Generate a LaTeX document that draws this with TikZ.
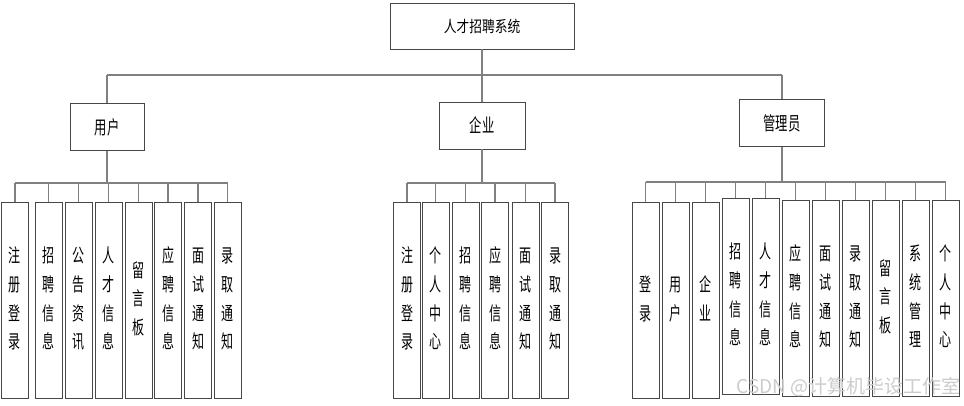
\documentclass[tikz,border=0pt]{standalone}
\usepackage{fontspec}
\newfontfamily\cjk{Noto Sans CJK SC}
\newcommand\vtxt[1]{\scalebox{0.8}[1.25]{\begin{tabular}{@{}c@{}}#1\end{tabular}}}
\newcommand\htxt[1]{\scalebox{0.82}[1.25]{#1}}
\begin{document}
\begin{tikzpicture}[x=1pt,y=-1pt,
  box/.style={draw=black!72,line width=0.95pt,fill=white,inner sep=0pt,rectangle,font=\cjk\fontsize{15}{23}\selectfont},
  rootbox/.style={box,minimum width=184pt,minimum height=46pt},
  midbox/.style={box,minimum height=47pt},
  leaf/.style={box,minimum width=27pt,minimum height=196pt},
  conn/.style={draw=black!50,line width=1.3pt}]
\useasboundingbox[fill=white] (0,0) rectangle (964,405);

% root
\node[rootbox] (root) at (482,26) {\scalebox{0.85}[1.05]{人才招聘系统}};

% second level
\node[midbox,minimum width=74pt] (user) at (107,127) {\htxt{用户}};
\node[midbox,minimum width=86pt] (ent) at (482,125.5) {\htxt{企业}};
\node[midbox,minimum width=85pt] (adm) at (782,123) {\htxt{管理员}};

\coordinate (bus) at (0,75);
\draw[conn] (root.south) -- (root.south |- bus);
\draw[conn] (user.north |- bus) -- (adm.north |- bus);
\foreach \n in {user,ent,adm} \draw[conn] (\n.north |- bus) -- (\n.north);

% user leaves
\node[leaf] (u1) at (15,300) {\vtxt{注\\册\\登\\录}};
\node[leaf] (u2) at (48.5,300) {\vtxt{招\\聘\\信\\息}};
\node[leaf] (u3) at (78.5,300) {\vtxt{公\\告\\资\\讯}};
\node[leaf] (u4) at (108.5,300) {\vtxt{人\\才\\信\\息}};
\node[leaf] (u5) at (138.5,300) {\vtxt{留\\言\\板}};
\node[leaf] (u6) at (168,300) {\vtxt{应\\聘\\信\\息}};
\node[leaf] (u7) at (198,300) {\vtxt{面\\试\\通\\知}};
\node[leaf] (u8) at (227.5,300) {\vtxt{录\\取\\通\\知}};
\coordinate (ub) at (0,183);
\draw[conn] (user.south) -- (user.south |- ub);
\draw[conn] (u1.north |- ub) -- (u8.north |- ub);
\foreach \n in {u1,u2,u3,u4,u5,u6,u7,u8} \draw[conn] (\n.north |- ub) -- (\n.north);

% enterprise leaves
\node[leaf] (e1) at (407,300) {\vtxt{注\\册\\登\\录}};
\node[leaf] (e2) at (435.5,300) {\vtxt{个\\人\\中\\心}};
\node[leaf] (e3) at (465.5,300) {\vtxt{招\\聘\\信\\息}};
\node[leaf] (e4) at (495,300) {\vtxt{应\\聘\\信\\息}};
\node[leaf] (e5) at (525.5,300) {\vtxt{面\\试\\通\\知}};
\node[leaf] (e6) at (555,300) {\vtxt{录\\取\\通\\知}};
\coordinate (eb) at (0,183);
\draw[conn] (ent.south) -- (ent.south |- eb);
\draw[conn] (e1.north |- eb) -- (e6.north |- eb);
\foreach \n in {e1,e2,e3,e4,e5,e6} \draw[conn] (\n.north |- eb) -- (\n.north);

% admin leaves
\node[leaf] (a1) at (645.5,300) {\vtxt{登\\录}};
\node[leaf] (a2) at (675.5,300) {\vtxt{用\\户}};
\node[leaf] (a3) at (705.5,300) {\vtxt{企\\业}};
\node[leaf] (a4) at (735.5,296) {\vtxt{招\\聘\\信\\息}};
\node[leaf] (a5) at (765.5,296) {\vtxt{人\\才\\信\\息}};
\node[leaf] (a6) at (795.5,298) {\vtxt{应\\聘\\信\\息}};
\node[leaf] (a7) at (825.5,298) {\vtxt{面\\试\\通\\知}};
\node[leaf] (a8) at (855.5,298) {\vtxt{录\\取\\通\\知}};
\node[leaf] (a9) at (885.5,298) {\vtxt{留\\言\\板}};
\node[leaf] (a10) at (915.5,298) {\vtxt{系\\统\\管\\理}};
\node[leaf] (a11) at (945.5,298) {\vtxt{个\\人\\中\\心}};
\coordinate (ab) at (0,182);
\draw[conn] (adm.south) -- (adm.south |- ab);
\draw[conn] (a1.north |- ab) -- (a11.north |- ab);
\foreach \n in {a1,a2,a3,a4,a5,a6,a7,a8,a9,a10,a11} \draw[conn] (\n.north |- ab) -- (\n.north);

% watermark
\node[anchor=east,inner sep=0pt,text=black!20,font=\cjk\fontsize{19}{20}\selectfont] (wm) at (961,387) {CSDN @计算机毕设工作室};
\end{tikzpicture}
\end{document}
